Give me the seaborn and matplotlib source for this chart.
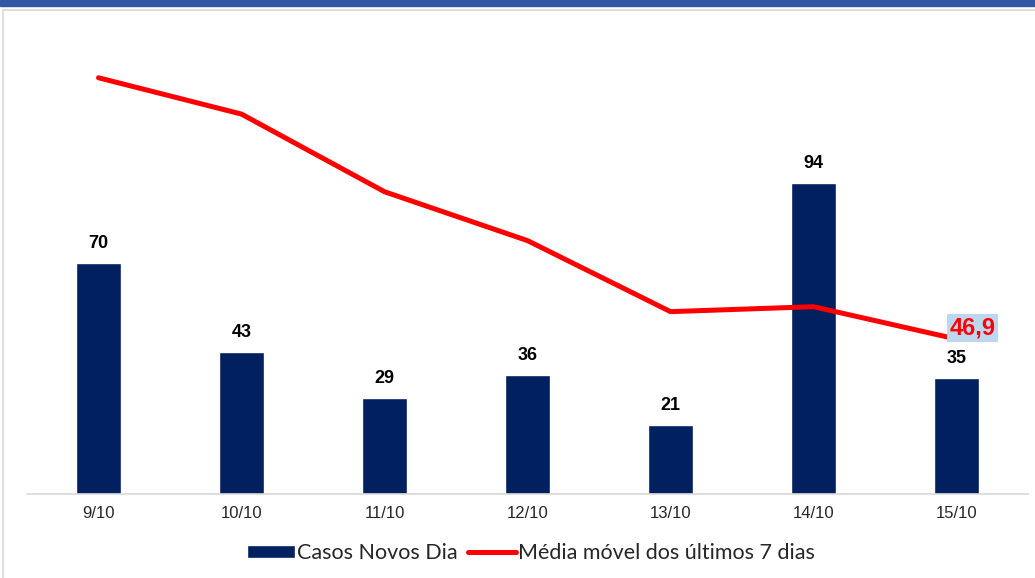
import numpy as np
import pandas as pd
import seaborn as sns
import matplotlib.pyplot as plt
from matplotlib.patches import Rectangle, Patch
from matplotlib.lines import Line2D

dates = ["9/10", "10/10", "11/10", "12/10", "13/10", "14/10", "15/10"]
casos = [70, 43, 29, 36, 21, 94, 35]
media = [126.0, 115.0, 91.5, 76.7, 55.2, 56.7, 46.9]

df = pd.DataFrame({"data": dates, "casos": casos, "media": media})

sns.set_style("white")
plt.rcParams["font.family"] = ["Liberation Sans", "DejaVu Sans"]

fig = plt.figure(figsize=(10.35, 5.78), dpi=100)

# top blue strip and light frame
fig.patches.append(Rectangle((0, 1 - 6 / 578), 1, 6 / 578, transform=fig.transFigure,
                             color="#3058A3", zorder=0))
fig.patches.append(Rectangle((3 / 1035, -0.01), 1.0, 1 - 10 / 578 + 0.01,
                             transform=fig.transFigure, fill=False,
                             edgecolor="#D9D9D9", linewidth=1.2, zorder=0))

ax = fig.add_axes([27 / 1035, 1 - 494 / 578, 1001 / 1035, 479 / 578])

sns.barplot(data=df, x="data", y="casos", color="#002060", width=0.31,
            saturation=1, ax=ax, zorder=2)
sns.lineplot(x=np.arange(len(dates)), y=df["media"], color="#FF0000",
             linewidth=3.6, ax=ax, zorder=3)

for i, v in enumerate(casos):
    ax.annotate(str(v), (i, v), xytext=(0, 8), textcoords="offset points",
                ha="center", va="bottom", fontsize=13, fontweight="bold",
                color="black")

ax.annotate("46,9", (len(dates) - 1, media[-1]), xytext=(-5, 8),
            textcoords="offset points", ha="left", va="center", fontsize=17,
            fontweight="bold", color="#FF0000",
            bbox=dict(boxstyle="square,pad=0.12", fc="#BDD7EE", ec="none"))

ax.set_xlim(-0.5, len(dates) - 0.5)
ax.set_ylim(0, 145)
ax.set_xlabel("")
ax.set_ylabel("")
ax.set_yticks([])
ax.set_xticks(range(len(dates)))
ax.set_xticklabels(dates, fontsize=12)
ax.tick_params(axis="x", which="major", length=0, pad=9)
ax.set_xticks(np.arange(-0.5, len(dates)), minor=True)
ax.tick_params(axis="x", which="minor", length=5, color="#D9D9D9", width=1.2)

sns.despine(ax=ax, left=True, right=True, top=True)
ax.spines["bottom"].set_color("#D9D9D9")
ax.spines["bottom"].set_linewidth(1.2)
ax.patch.set_alpha(0)

handles = [Patch(facecolor="#002060", label="Casos Novos Dia"),
           Line2D([0], [0], color="#FF0000", linewidth=3.6,
                  label="Média móvel dos últimos 7 dias")]
fig.legend(handles=handles, loc="center", bbox_to_anchor=(0.513, 1 - 553 / 578),
           ncol=2, frameon=False, prop={"family": ["Lato", "DejaVu Sans"], "size": 15.5},
           handlelength=2.2, handleheight=0.6, handletextpad=0.1, columnspacing=0.5)

fig.savefig("out.png", dpi=100)
